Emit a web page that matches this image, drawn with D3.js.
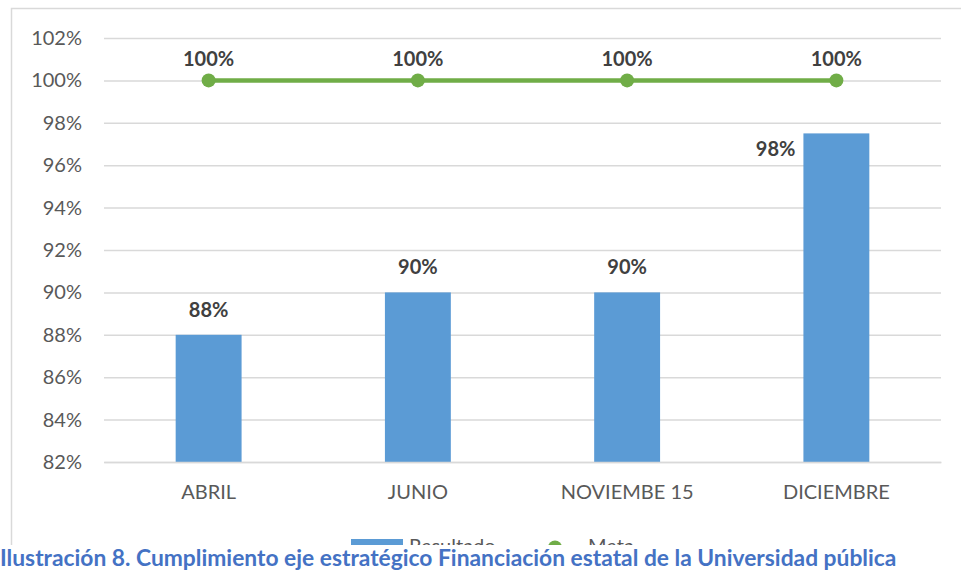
<!DOCTYPE html>
<html><head><meta charset="utf-8">
<script src="https://cdn.jsdelivr.net/npm/d3@7"></script>
<style>body{margin:0;background:#fff}svg{display:block}</style>
</head><body>
<svg id="c" width="961" height="579"></svg>
<script>
const categories = ["ABRIL", "JUNIO", "NOVIEMBE 15", "DICIEMBRE"];
const resultado = [88, 90, 90, 97.5];
const resultadoLabels = ["88%", "90%", "90%", "98%"];
const meta = [100, 100, 100, 100];
const metaLabels = ["100%", "100%", "100%", "100%"];
const yTicks = [82, 84, 86, 88, 90, 92, 94, 96, 98, 100, 102];
const seriesNames = ["Resultado", "Meta"];
const caption = "Ilustración 8. Cumplimiento eje estratégico Financiación estatal de la Universidad pública";

(function () {
const svg = d3.select("#c");
const font = "Lato, 'Open Sans', sans-serif";
const pLeft = 104, pRight = 941, pTop = 38, pBottom = 462;

svg.append("rect").attr("x", 11.5).attr("y", 8.5).attr("width", 960).attr("height", 560)
  .attr("fill", "#fff").attr("stroke", "#D9D9D9").attr("stroke-width", 1.5);

const x = d3.scaleBand().domain(categories).range([pLeft, pRight]).paddingInner(0.685).paddingOuter(0.3425);
const y = d3.scaleLinear().domain([82, 102]).range([pBottom, pTop]);

const yAxis = d3.axisLeft(y).tickValues(yTicks).tickSize(-(pRight - pLeft)).tickFormat(d => d + "%").tickPadding(22);
const ga = svg.append("g").attr("transform", `translate(${pLeft},0)`).call(yAxis);
ga.select(".domain").remove();
ga.selectAll(".tick line").attr("stroke", "#D9D9D9").attr("stroke-width", 1.5);
ga.selectAll(".tick text").attr("fill", "#595959").attr("font-family", font).attr("font-size", 20);

svg.selectAll("rect.bar").data(resultado).enter().append("rect").attr("class", "bar")
  .attr("x", (d, i) => x(categories[i])).attr("width", x.bandwidth())
  .attr("y", d => y(d)).attr("height", d => y(82) - y(d)).attr("fill", "#5B9BD5");

const xAxis = d3.axisBottom(x).tickSize(0).tickPadding(23);
const gx = svg.append("g").attr("transform", `translate(0,${pBottom})`).call(xAxis);
gx.select(".domain").attr("stroke", "#D9D9D9").attr("stroke-width", 1.5);
gx.selectAll(".tick text").attr("fill", "#595959").attr("font-family", font).attr("font-size", 20);

const near = d => y(d) - y(100) < 70;
svg.selectAll("text.bl").data(resultado).enter().append("text").attr("class", "bl")
  .attr("font-family", font).attr("font-size", 20).attr("font-weight", "bold").attr("fill", "#404040")
  .attr("text-anchor", d => near(d) ? "end" : "middle")
  .attr("x", (d, i) => near(d) ? x(categories[i]) - 8 : x(categories[i]) + x.bandwidth() / 2)
  .attr("y", d => near(d) ? y(d) + 23 : y(d) - 18)
  .text((d, i) => resultadoLabels[i]);

const cx = (d, i) => x(categories[i]) + x.bandwidth() / 2;
const line = d3.line().x((d, i) => cx(d, i)).y(d => y(d));
svg.append("path").datum(meta).attr("d", line).attr("fill", "none").attr("stroke", "#70AD47").attr("stroke-width", 4.5);
svg.selectAll("circle.m").data(meta).enter().append("circle").attr("class", "m")
  .attr("cx", cx).attr("cy", d => y(d)).attr("r", 7).attr("fill", "#70AD47");
svg.selectAll("text.ml").data(meta).enter().append("text").attr("class", "ml")
  .attr("font-family", font).attr("font-size", 20).attr("font-weight", "bold").attr("fill", "#404040")
  .attr("text-anchor", "middle").attr("x", cx).attr("y", d => y(d) - 14)
  .text((d, i) => metaLabels[i]);

// legend, partially covered by the caption as in the source
const lg = svg.append("g");
lg.append("rect").attr("x", 351).attr("y", 539).attr("width", 52).attr("height", 8).attr("fill", "#5B9BD5");
lg.append("text").attr("x", 409).attr("y", 553).attr("font-family", font).attr("font-size", 20).attr("fill", "#595959").text(seriesNames[0]);
lg.append("line").attr("x1", 528).attr("x2", 582).attr("y1", 548).attr("y2", 548).attr("stroke", "#70AD47").attr("stroke-width", 4.5);
lg.append("circle").attr("cx", 555).attr("cy", 547.5).attr("r", 7).attr("fill", "#70AD47");
lg.append("text").attr("x", 588).attr("y", 553).attr("font-family", font).attr("font-size", 20).attr("fill", "#595959").text(seriesNames[1]);

svg.append("rect").attr("x", 0).attr("y", 545).attr("width", 961).attr("height", 34).attr("fill", "#fff");
const cap = svg.append("text").attr("x", 0).attr("y", 566).attr("font-family", font).attr("font-size", 18)
  .attr("font-weight", "bold").attr("fill", "#4472C4").text(caption);
const w = cap.node().getComputedTextLength();
cap.attr("font-size", 18 * 897 / w);
})();
</script>
</body></html>
